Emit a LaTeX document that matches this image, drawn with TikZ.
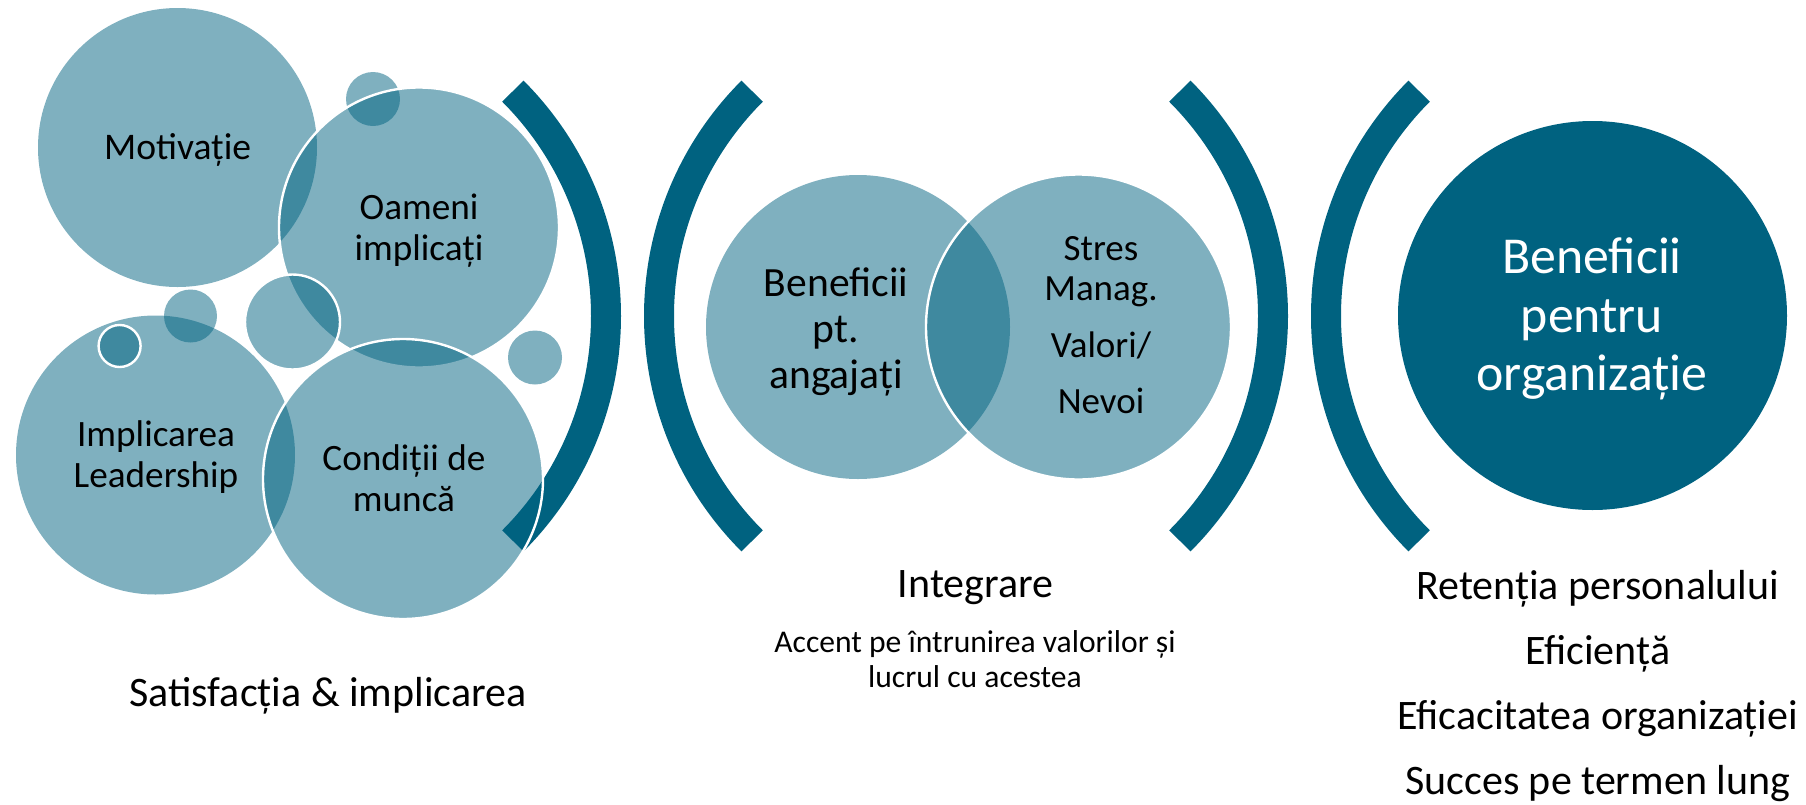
\documentclass[tikz,border=0pt]{standalone}
\usepackage{fontspec}
\setmainfont{Carlito}
\usepackage{tikz}
\definecolor{petrol}{RGB}{0,98,128}
\newcommand{\fsz}[2]{\fontsize{#1}{#2}\selectfont}
\tikzset{
    bubble/.style={fill=petrol, fill opacity=0.5},
    rimmed/.style={bubble, draw=white, line width=1.2pt},
    bracket/.style={draw=petrol, line width=15pt},
    txt/.style={align=center, inner sep=0pt, text=black}}

\begin{document}
\begin{tikzpicture}[x=0.5pt, y=-0.5pt]
        \useasboundingbox (0,0) rectangle (1806,804);

        \coordinate (br1) at (288,316);
        \coordinate (br2) at (977,316);
        \coordinate (br3) at (955,316);
        \coordinate (br4) at (1644,316);
        \draw[bracket] ([shift={(-45:318)}]br1) arc[start angle=-45, end angle=45, radius=318];
        \draw[bracket] ([shift={(135:318)}]br2) arc[start angle=135, end angle=225, radius=318];
        \draw[bracket] ([shift={(-45:318)}]br3) arc[start angle=-45, end angle=45, radius=318];
        \draw[bracket] ([shift={(135:318)}]br4) arc[start angle=135, end angle=225, radius=318];

        \path[bubble] (177.5,147.5) circle (139.5);
        \path[bubble] (373,99) circle (27);
        \path[rimmed] (419,227.5) circle (140);
        \path[rimmed] (292.5,322) circle (47.5);
        \path[bubble] (190.5,316) circle (26.5);
        \path[bubble] (155.5,455) circle (139.5);
        \path[rimmed] (119.6,346) circle (21);
        \path[rimmed] (403,479) circle (140);
        \path[bubble] (535,357.5) circle (27);

        \path[bubble] (858,327) circle (152);
        \path[rimmed] (1078.5,327) circle (152.5);

        \path[fill=petrol] (1592.5,315.5) circle (194.5);

        \node[txt, font=\fsz{18.8}{20.5}, anchor=base] (motiv) at (177.6,159.4) {Motivație};
        \node[txt, font=\fsz{18.6}{20.5}] (oameni) at (419,230.4) {Oameni\\implicați};
        \node[txt, font=\fsz{18.6}{20.5}] (implic) at (156,457) {Implicarea\\Leadership};
        \node[txt, font=\fsz{18.6}{20.5}] (condit) at (404,478.2) {Condiții de\\muncă};
        \node[txt, font=\fsz{21}{24}, anchor=base] (satisf) at (328,706.7) {Satisfacția \& implicarea};

        \node[txt, font=\fsz{20.8}{22.8}] (benang) at (836,332) {Beneficii\\pt.\\angajați};
        \node[txt, font=\fsz{18.5}{20}] (stres) at (1101,325.3) {Stres\\Manag.\\[8.35pt]Valori/\\[8.35pt]Nevoi};
        \node[txt, font=\fsz{21}{24}, anchor=base] (integr) at (975.5,597.7) {Integrare};
        \node[txt, font=\fsz{15.8}{17.2}] (accent) at (975,659.3) {Accent pe întrunirea valorilor și\\lucrul cu acestea};

        \node[txt, text=white, font=\fsz{25.9}{29.2}] (benorg) at (1592,319.2) {Beneficii\\pentru\\organizație};
        \node[txt, font=\fsz{21}{24}, anchor=base] (reten) at (1597.7,599) {Retenția personalului};
        \node[txt, font=\fsz{21}{24}, anchor=base] (efic) at (1597.7,664) {Eficiență};
        \node[txt, font=\fsz{21}{24}, anchor=base] (eficac) at (1597.7,729) {Eficacitatea organizației};
        \node[txt, font=\fsz{21}{24}, anchor=base] (succes) at (1597.7,794) {Succes pe termen lung};

    \end{tikzpicture}
\end{document}
